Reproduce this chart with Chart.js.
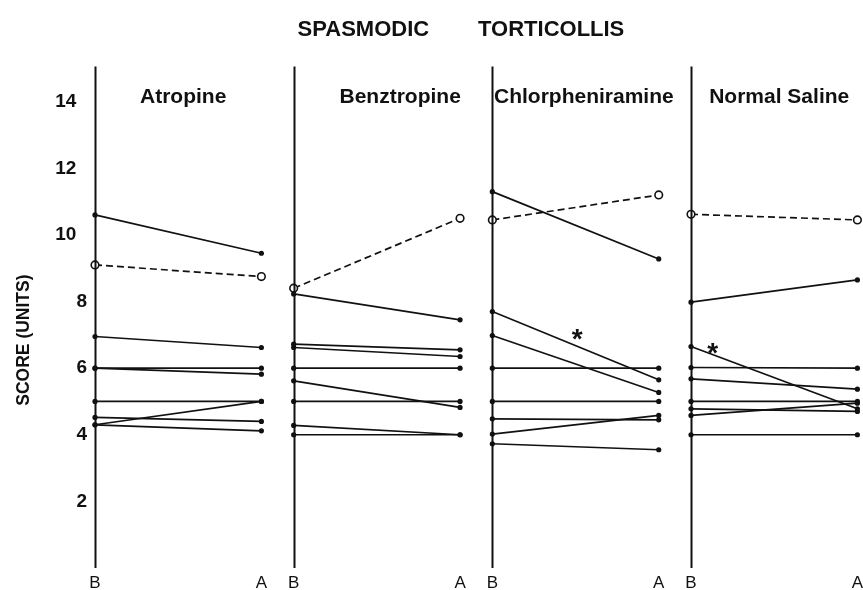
<!DOCTYPE html>
<html>
<head>
<meta charset="utf-8">
<script src="https://cdn.jsdelivr.net/npm/chart.js@4.4.1/dist/chart.umd.min.js"></script>
<style>
  html, body { margin: 0; padding: 0; background: #fff; }
</style>
</head>
<body>
<canvas id="chart" width="863" height="590"></canvas>
<script>
// Score per patient, B = before, A = after
const drugs = ["Atropine", "Benztropine", "Chlorpheniramine", "Normal Saline"];
const timeLabels = ["B", "A"];
const yTicks = [2, 4, 6, 8, 10, 12, 14];

const atropineBefore = [10.6, 6.95, 6.0, 6.0, 5.0, 4.3, 4.52, 4.3];
const atropineAfter  = [9.45, 6.62, 6.0, 5.82, 5.0, 5.0, 4.4, 4.12];

const benztropineBefore = [8.23, 6.72, 6.62, 6.0, 5.62, 5.0, 4.28, 4.0];
const benztropineAfter  = [7.45, 6.55, 6.35, 6.0, 4.82, 5.0, 4.0, 4.0];

const chlorBefore = [11.3, 7.7, 6.98, 6.0, 5.0, 4.48, 4.02, 3.73];
const chlorAfter  = [9.28, 5.65, 5.27, 6.0, 5.0, 4.45, 4.58, 3.55];

const salineBefore = [7.98, 6.65, 6.02, 5.68, 5.0, 4.78, 4.58, 4.0];
const salineAfter  = [8.65, 4.78, 6.0, 5.37, 5.0, 4.7, 4.95, 4.0];

// dashed line with open circles
const meanBefore = [9.1, 8.4, 10.45, 10.62];
const meanAfter  = [8.75, 10.5, 11.2, 10.45];

const PANEL_GAP = 1.194;
const FONT = "'Liberation Sans', Arial, sans-serif";

const before = [atropineBefore, benztropineBefore, chlorBefore, salineBefore];
const after = [atropineAfter, benztropineAfter, chlorAfter, salineAfter];

const datasets = [];
const xTickValues = [];
drugs.forEach((d, i) => {
    const xB = i * PANEL_GAP;
    const xA = xB + 1;
    xTickValues.push(xB, xA);
    before[i].forEach((b, j) => {
        datasets.push({
            data: [{ x: xB, y: b }, { x: xA, y: after[i][j] }],
            borderColor: "#111",
            borderWidth: 1.7,
            pointRadius: 2.6,
            pointBackgroundColor: "#111",
            pointBorderColor: "#111",
            pointBorderWidth: 0
        });
    });
    datasets.push({
        data: [{ x: xB, y: meanBefore[i] }, { x: xA, y: meanAfter[i] }],
        borderColor: "#111",
        borderWidth: 1.7,
        borderDash: [7, 4],
        pointRadius: 3.8,
        pointBackgroundColor: "#fff",
        pointBorderColor: "#111",
        pointBorderWidth: 1.6
    });
});

// panel axes, drug names and asterisks
const panelDecor = {
    id: "panelDecor",
    afterDatasetsDraw(chart, args, opts) {
        const { ctx, chartArea, scales: { x, y } } = chart;
        ctx.save();
        ctx.strokeStyle = "#111";
        ctx.lineWidth = 2;
        drugs.forEach((d, i) => {
            const px = Math.round(x.getPixelForValue(i * PANEL_GAP)) + 0.5;
            ctx.beginPath();
            ctx.moveTo(px, chartArea.top - 2);
            ctx.lineTo(px, chartArea.bottom);
            ctx.stroke();
        });
        ctx.fillStyle = "#111";
        ctx.font = "bold 21px " + FONT;
        ctx.textAlign = "center";
        ctx.textBaseline = "middle";
        drugs.forEach((d, i) => {
            ctx.fillText(d, x.getPixelForValue(i * PANEL_GAP + opts.labelOffsets[i]), y.getPixelForValue(opts.labelY));
        });
        ctx.font = "bold 28px " + FONT;
        ctx.textBaseline = "alphabetic";
        opts.stars.forEach(s => {
            ctx.fillText("*", x.getPixelForValue(s.panel * PANEL_GAP + s.x), y.getPixelForValue(s.y) + 16);
        });
        ctx.restore();
    }
};

new Chart(document.getElementById("chart"), {
    type: "line",
    data: { datasets: datasets },
    plugins: [panelDecor],
    options: {
        responsive: false,
        animation: false,
        clip: false,
        layout: { padding: 0 },
        plugins: {
            legend: { display: false },
            tooltip: { enabled: false },
            title: {
                display: true,
                fullSize: false,
                text: "SPASMODIC        TORTICOLLIS     ",
                color: "#111",
                font: { family: FONT, size: 22, weight: "bold" },
                padding: { top: 17, bottom: 25 }
            },
            panelDecor: {
                labelOffsets: [0.53, 0.64, 0.55, 0.53],
                labelY: 14.15,
                stars: [{ panel: 2, x: 0.51, y: 7.1 }, { panel: 3, x: 0.13, y: 6.68 }]
            }
        },
        scales: {
            x: {
                type: "linear",
                min: 0,
                max: 3 * PANEL_GAP + 1,
                grid: { display: false, drawTicks: false },
                border: { display: false },
                afterBuildTicks: s => { s.ticks = xTickValues.map(v => ({ value: v })); },
                afterFit: s => { s.paddingLeft = 0; s.paddingRight = 0; s.height = 22; },
                ticks: {
                    autoSkip: false,
                    maxRotation: 0,
                    padding: 5,
                    color: "#111",
                    font: { family: FONT, size: 17 },
                    callback: (v, i) => timeLabels[i % 2]
                }
            },
            y: {
                min: 0,
                max: 15,
                grid: { display: false, drawTicks: false },
                border: { display: false },
                afterBuildTicks: s => { s.ticks = yTicks.map(v => ({ value: v })); },
                afterFit: s => { s.width = 95; s.paddingTop = 0; s.paddingBottom = 0; },
                ticks: {
                    padding: 8,
                    color: "#111",
                    font: { family: FONT, size: 19, weight: "bold" },
                    callback: v => (v >= 10 ? v + "\u2007" : v)
                },
                title: {
                    display: true,
                    text: "SCORE (UNITS)         ",
                    color: "#111",
                    font: { family: FONT, size: 17.5, weight: "bold" },
                    padding: { top: 14, bottom: 0 }
                }
            }
        }
    }
});
</script>
</body>
</html>
